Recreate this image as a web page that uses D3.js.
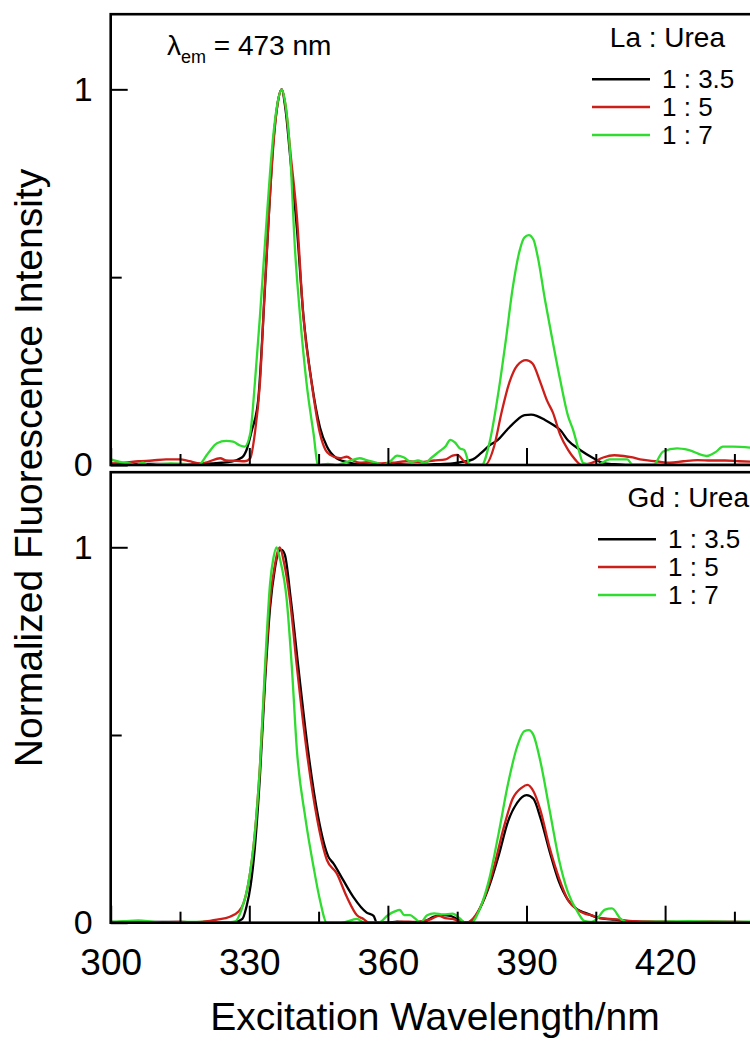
<!DOCTYPE html>
<html>
<head>
<meta charset="utf-8">
<script src="https://cdn.jsdelivr.net/npm/d3@7"></script>
<style>
  body { margin: 0; background: #fff; }
  text { font-family: "Liberation Sans", Arial, sans-serif; fill: #000; }
</style>
</head>
<body>
<div id="graph"></div>
<script>
// [wavelength nm, normalized intensity]
var laBlack = [[300,.002],[305,.003],[310,.003],[315,.002],[320,.003],[324,.006],[326,.009],[328.4,.02],[329.4,.04],[330.5,.09],[331.9,.17],[333.3,.45],[334.3,.68],[335.2,.86],[336.1,.96],[337,1],[337.8,.95],[339,.8],[340.3,.63],[341.7,.4],[343.5,.22],[345.3,.1],[346.8,.049],[348.9,.018],[351.8,.006],[354,.002],[358,0],[362,.002],[366,0],[370,.002],[374,.004],[376,.008],[378.4,.015],[380,.03],[382,.052],[383.8,.067],[385.5,.09],[387.5,.115],[389.6,.133],[391,.134],[392.2,.131],[394,.12],[396,.105],[397.3,.093],[399,.065],[401.6,.04],[404.5,.018],[406.6,.005],[409,.002],[412,0],[420,0],[430,0],[440,0]]
var laRed = [[300,.004],[303,.006],[306,.01],[309,.012],[312,.015],[315,.015],[317,.01],[319.4,.004],[321,.008],[323.7,.018],[325,.012],[327.3,.011],[329,.01],[330.2,.018],[331.2,.084],[332.3,.217],[333.4,.484],[334.3,.68],[335.2,.85],[336.1,.96],[337,1],[337.8,.96],[339,.82],[340.3,.661],[341.7,.395],[343.5,.217],[345.3,.084],[346.5,.04],[347.5,.027],[349.6,.018],[351.1,.022],[352.5,.012],[353.9,.006],[356,.008],[358,.004],[361,.006],[364,.01],[367,.008],[370,.012],[372.5,.015],[374,.025],[375,.027],[376.5,.01],[378,0],[381,0],[383,.05],[384.6,.14],[386.3,.22],[388,.265],[389.9,.279],[391.3,.27],[393,.22],[394.5,.17],[395.7,.14],[397.3,.08],[399,.04],[400.5,.015],[402,0],[404,.005],[406.6,.02],[409,.026],[411,.024],[413,.02],[415,.014],[418,.01],[421,.006],[424,.01],[427,.013],[430,.012],[433,.012],[436,.01],[440,.008]]
var laGreen = [[300,.015],[302,.008],[304,.004],[305.5,0],[307,.006],[308,0],[310,.002],[313,.004],[316,.003],[319,0],[321,.03],[323,.058],[325,.064],[326.5,.062],[328,.052],[329,.049],[330.2,.084],[331.2,.217],[332.3,.395],[333,.52],[333.8,.661],[334.5,.78],[335.3,.89],[336.2,.97],[337,1],[337.7,.97],[338.8,.838],[339.9,.572],[341,.395],[342.4,.217],[343.9,.084],[344.9,0],[347,.003],[349,0],[350.5,.006],[351.8,.011],[353.9,.018],[355.4,.013],[357.6,.006],[359,0],[360.5,.01],[362,.025],[363.5,.02],[365,.008],[366.5,.012],[368,.006],[369.5,.02],[371,.035],[372.5,.05],[373.5,.067],[374.5,.06],[375.5,.045],[376.5,.04],[377.8,0],[380.3,0],[382,.06],[384,.2],[385.5,.33],[387,.47],[388.5,.57],[389.5,.605],[390.5,.612],[391.5,.6],[392.5,.55],[394,.44],[395.5,.34],[397.3,.226],[399,.13],[400.1,.093],[401.3,.04],[402.3,.005],[405.2,0],[408,.015],[411.8,.015],[413,0],[417.4,0],[419.6,.036],[422.6,.044],[425,.04],[429,.024],[431,.035],[432.5,.049],[434.7,.049],[440,.044]]

var gdBlack = [[300,.002],[305,.001],[310,.002],[315,.002],[320,0],[325,0],[327,.002],[328.5,.01],[329.4,.043],[330.3,.1],[331.2,.2],[332.3,.39],[333.4,.64],[334.5,.84],[335.5,.94],[336.4,.99],[337,.993],[337.7,.98],[339,.86],[340.6,.682],[342.7,.46],[344.9,.282],[347.1,.176],[348.2,.158],[350.3,.114],[352.5,.069],[355.4,.027],[356.9,.018],[357.6,0],[360,0],[362,.003],[365,0],[368,.004],[370,.016],[372,.02],[373.5,.018],[375,.01],[377,0],[378.5,.01],[380,.04],[382,.1],[384,.18],[386,.27],[388,.32],[390,.34],[391.5,.33],[393,.28],[395,.19],[397,.11],[399,.06],[401,.035],[403,.025],[405,.015],[407,.01],[409,.008],[412,.004],[416,.002],[420,.002],[425,.001],[430,.002],[435,.002],[440,.001]]
var gdRed = [[300,0],[303,.003],[306,.002],[310,.001],[315,.002],[318,.001],[320,.003],[321.5,.005],[323,.008],[325.8,.016],[327.6,.029],[328.7,.05],[329.8,.105],[331.2,.238],[332.3,.416],[333.4,.66],[334.5,.86],[335.5,.95],[336.6,1],[337.5,.96],[338.8,.86],[340.3,.682],[342.4,.46],[344.6,.282],[346.8,.167],[348.9,.132],[351.1,.069],[353.3,.02],[354.7,.01],[356,0],[360,0],[363,.003],[366,.002],[369,.008],[371,.018],[372.5,.012],[374,.01],[375.5,.004],[377,0],[379,.02],[381,.07],[383,.15],[385,.25],[387,.33],[389,.36],[390.2,.367],[391.5,.35],[393,.3],[395,.2],[397,.12],[399,.06],[401,.035],[402.5,.025],[404,.02],[406,.012],[408,.01],[410,.008],[413,.004],[418,.003],[425,.002],[430,.003],[435,.002],[440,.001]]
var gdGreen = [[300,.002],[303,.004],[306,.006],[309,.003],[312,0],[316,.002],[320,.002],[324,0],[326.9,.003],[328.3,.034],[329.8,.105],[331.2,.238],[332.3,.416],[333.4,.682],[334.5,.904],[335.2,.97],[335.9,1],[336.6,.97],[338.1,.86],[339.2,.682],[340.3,.46],[342.1,.282],[343.9,.149],[345.3,.06],[346.8,0],[350,0],[353.3,.01],[355,0],[358,0],[360,.02],[361.5,.03],[362.6,.034],[363.5,.02],[364.8,.02],[366,.01],[367,0],[368.5,.02],[370,.025],[372,.022],[374,.024],[375.5,.012],[376.7,0],[378,0],[380,.04],[382,.12],[384,.24],[386,.37],[388,.47],[389.5,.51],[390.5,.513],[391.5,.5],[393,.43],[395,.3],[397,.17],[399,.08],[401,.03],[402.5,.005],[404,.002],[405.2,.01],[407,.035],[408.5,.038],[410.4,.01],[412,0],[415,.002],[420,.003],[425,.004],[430,.003],[435,.002],[440,.003]]

var ratios = ['1 : 3.5', '1 : 5', '1 : 7']
var colors = ['#000000', '#cc1f1a', '#2fdc2f']
var xMajor = [300, 330, 360, 390, 420]
var xMinor = [315, 345, 375, 405, 435]
var yMajor = [0, 1]
var yMinor = [0.5]

var panels = [
  {name: 'La : Urea', series: [laBlack, laRed, laGreen], top: 14.2, bottom: 465, legX: 725, legY: 47, lineX: 592, rowY: 79.3, labels: false},
  {name: 'Gd : Urea', series: [gdBlack, gdRed, gdGreen], top: 472.2, bottom: 922.7, legX: 749, legY: 507, lineX: 598, rowY: 539.3, labels: true}
]

var width = 750, height = 1041
var svg = d3.select('#graph').append('svg').attr('width', width).attr('height', height)

var x = d3.scaleLinear().domain([300, 450]).range([110.7, 803.7])

panels.forEach((p, i) => {
  var y = d3.scaleLinear().domain([0, 1.2]).range([p.bottom, p.top])
  var g = svg.append('g')

  g.append('clipPath').attr('id', 'clip' + i)
    .append('rect').attr('x', x(300)).attr('y', p.top).attr('width', x(450) - x(300)).attr('height', p.bottom - p.top)

  var line = d3.line().x(d => x(d[0])).y(d => y(d[1])).curve(d3.curveMonotoneX)

  g.append('g').attr('clip-path', `url(#clip${i})`)
    .selectAll('path').data(p.series).join('path')
    .attr('d', line)
    .attr('fill', 'none')
    .attr('stroke', (d, j) => colors[j])
    .attr('stroke-width', 2.3)
    .attr('stroke-linejoin', 'round')

  // inward ticks, majors longer than minors
  var xa = g.append('g').attr('transform', `translate(0,${p.bottom})`)
    .call(d3.axisBottom(x).tickValues(xMajor).tickSize(-17).tickPadding(26)
      .tickFormat(p.labels ? d3.format('d') : ''))
  var xm = g.append('g').attr('transform', `translate(0,${p.bottom})`)
    .call(d3.axisBottom(x).tickValues(xMinor).tickSize(-11).tickFormat(''))
  var ya = g.append('g').attr('transform', `translate(${x(300)},0)`)
    .call(d3.axisLeft(y).tickValues(yMajor).tickSize(-17).tickPadding(18).tickFormat(d3.format('d')))
  var ym = g.append('g').attr('transform', `translate(${x(300)},0)`)
    .call(d3.axisLeft(y).tickValues(yMinor).tickSize(-11).tickFormat(''))

  ;[xa, xm, ya, ym].forEach(a => {
    a.select('.domain').remove()
    a.selectAll('line').attr('stroke', '#000').attr('stroke-width', 2)
    a.selectAll('text').attr('font-family', '"Liberation Sans", Arial, sans-serif')
  })
  xa.selectAll('text').attr('font-size', 37)
  ya.selectAll('text').attr('font-size', 34)

  g.append('rect')
    .attr('x', x(300)).attr('y', p.top)
    .attr('width', x(450) - x(300)).attr('height', p.bottom - p.top)
    .attr('fill', 'none').attr('stroke', '#000').attr('stroke-width', 2.6)

  // legend
  g.append('text').attr('x', p.legX).attr('y', p.legY)
    .attr('text-anchor', 'end').attr('font-size', 28).text(p.name)

  var rows = g.selectAll('.leg').data(ratios).join('g').attr('class', 'leg')
    .attr('transform', (d, j) => `translate(${p.lineX},${p.rowY + j * 27.8})`)
  rows.append('line').attr('x1', 0).attr('x2', 58)
    .attr('stroke', (d, j) => colors[j]).attr('stroke-width', 2.5)
  rows.append('text').attr('x', 70).attr('dy', '0.35em')
    .attr('font-size', 26).text(d => d)
})

var note = svg.append('text').attr('x', 167).attr('y', 55).attr('font-size', 28)
note.append('tspan').text('λ')
note.append('tspan').attr('font-size', 18).attr('dy', 8).text('em')
note.append('tspan').attr('dy', -8).text(' = 473 nm')

svg.append('text')
  .attr('x', 435).attr('y', 1030)
  .attr('text-anchor', 'middle').attr('font-size', 39)
  .text('Excitation Wavelength/nm')

svg.append('text')
  .attr('transform', 'translate(42,468) rotate(-90)')
  .attr('text-anchor', 'middle').attr('font-size', 39)
  .text('Normalized Fluorescence Intensity')
</script>
</body>
</html>
